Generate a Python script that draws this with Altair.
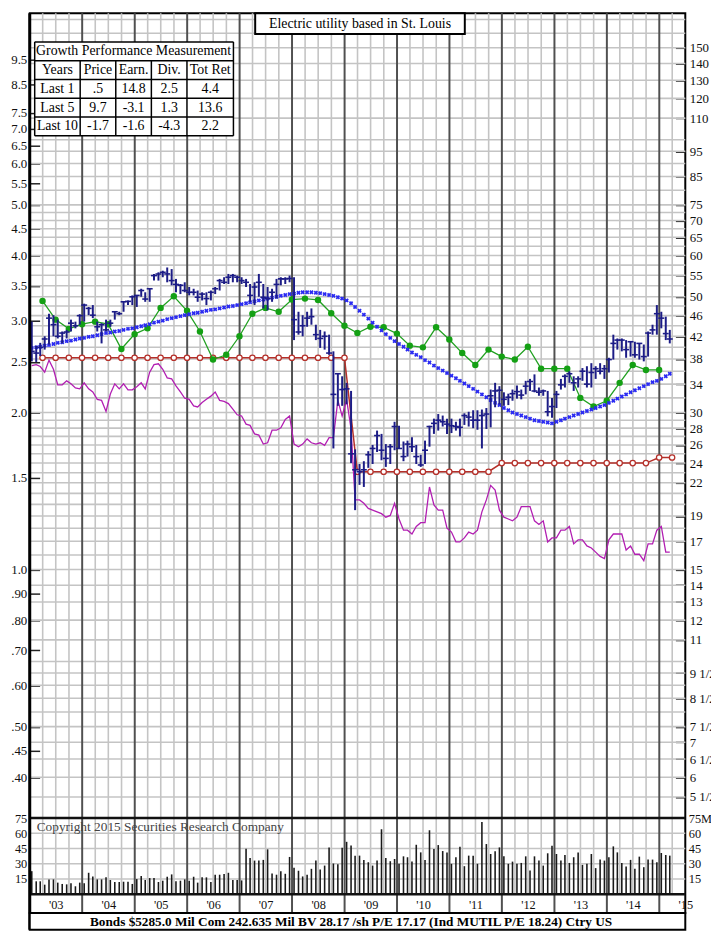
import altair as alt
import pandas as pd

SERIF = "Liberation Serif"

# ---------------- data ----------------
N_MONTHS = 147  # Jan 2003 .. Mar 2015

HIGH = [
    44.8, 40.3, 40.8, 42.0, 46.4, 46.1, 45.2, 42.9, 43.2, 45.2, 44.8, 46.3,
    48.5, 47.8, 48.2, 44.8, 44.5, 45.2, 45.2, 46.8, 46.8, 48.9, 49.2, 50.3,
    50.3, 51.8, 51.0, 51.8, 55.3, 55.7, 56.1, 56.9, 56.5, 54.1, 52.9, 53.3,
    52.2, 51.8, 51.4, 51.0, 51.0, 51.4, 52.2, 54.1, 54.5, 55.3, 55.3, 54.9,
    54.5, 54.1, 52.9, 53.3, 55.3, 52.9, 52.2, 51.8, 54.1, 54.5, 54.5, 54.9,
    54.5, 46.8, 46.1, 46.8, 47.5, 44.2, 43.2, 42.9, 42.3, 39.3, 35.7, 35.2,
    34.2, 33.0, 25.5, 23.9, 24.2, 25.3, 26.0, 27.7, 27.3, 26.1, 26.1, 28.8,
    28.3, 26.4, 26.5, 26.9, 26.0, 24.9, 26.5, 28.3, 29.2, 29.8, 29.6, 29.2,
    29.2, 28.8, 29.2, 29.9, 30.1, 30.3, 30.3, 30.4, 30.6, 33.2, 34.2, 33.7,
    32.8, 32.6, 33.2, 33.8, 33.2, 34.5, 34.8, 35.5, 33.5, 33.2, 33.0, 32.0,
    33.0, 34.8, 35.5, 36.0, 35.2, 35.2, 36.5, 36.8, 37.3, 36.8, 37.3, 37.0,
    38.2, 42.3, 41.6, 41.6, 41.3, 41.0, 41.0, 40.7, 40.5, 42.9, 44.2, 48.2,
    46.8, 45.8, 43.2]

LOW = [
    37.6, 37.5, 38.5, 39.6, 40.5, 42.0, 41.6, 40.7, 41.6, 42.9, 43.5, 44.2,
    44.8, 46.1, 45.5, 42.9, 40.7, 42.9, 43.8, 45.2, 46.1, 46.8, 48.2, 48.2,
    47.8, 50.0, 48.9, 48.9, 53.7, 53.7, 54.5, 53.3, 52.6, 51.0, 50.6, 51.0,
    50.3, 50.3, 48.9, 49.2, 48.2, 49.2, 50.6, 51.4, 52.9, 52.9, 53.3, 53.3,
    52.9, 52.2, 48.9, 48.2, 50.0, 47.5, 47.1, 48.9, 49.6, 52.6, 52.9, 53.3,
    41.3, 42.3, 42.0, 43.8, 44.2, 41.3, 39.9, 39.6, 38.7, 25.6, 30.9, 30.9,
    31.1, 24.0, 19.5, 21.8, 21.6, 23.5, 23.9, 25.2, 24.3, 23.6, 23.9, 25.4,
    25.6, 24.2, 24.7, 25.2, 23.9, 23.6, 23.9, 25.8, 27.3, 27.7, 28.2, 27.3,
    27.4, 27.7, 27.0, 28.4, 28.2, 28.0, 27.8, 25.6, 27.9, 28.1, 30.7, 31.1,
    30.9, 31.0, 31.6, 31.9, 31.8, 32.5, 33.0, 32.8, 32.3, 32.3, 29.5, 29.3,
    30.6, 33.2, 33.5, 34.2, 33.0, 33.5, 34.5, 33.5, 33.5, 34.8, 35.5, 34.8,
    35.8, 37.9, 39.6, 39.3, 38.2, 38.4, 38.2, 37.9, 37.6, 38.4, 42.3, 42.3,
    43.5, 41.3, 40.7]

CLOSE = [
    39.3, 39.0, 40.0, 41.5, 45.5, 44.2, 42.0, 42.6, 42.8, 44.5, 44.0, 46.0,
    48.2, 47.5, 46.1, 43.8, 44.2, 43.2, 44.5, 46.8, 46.4, 48.9, 49.0, 50.0,
    50.3, 51.4, 49.5, 51.8, 54.9, 55.3, 55.7, 55.3, 53.7, 52.8, 52.6, 51.4,
    51.0, 51.0, 49.9, 50.6, 49.6, 51.0, 51.8, 53.7, 53.3, 54.5, 54.9, 54.5,
    53.7, 53.3, 50.3, 52.2, 53.3, 49.9, 49.6, 51.0, 52.8, 54.1, 54.1, 54.2,
    45.2, 42.8, 44.0, 45.5, 45.8, 42.3, 41.6, 42.0, 39.0, 32.5, 35.6, 33.2,
    33.3, 25.0, 23.3, 23.1, 23.3, 24.9, 25.6, 27.1, 25.4, 24.5, 25.8, 28.2,
    25.6, 24.7, 26.1, 25.8, 24.7, 23.8, 25.4, 28.2, 28.6, 29.0, 28.8, 28.5,
    28.3, 28.2, 28.1, 29.6, 29.4, 29.0, 29.0, 29.6, 29.8, 32.3, 33.0, 33.1,
    31.8, 32.1, 32.6, 32.9, 32.4, 33.7, 34.4, 33.0, 32.8, 33.0, 30.1, 30.8,
    32.5, 33.9, 35.2, 35.6, 34.2, 34.8, 36.0, 34.0, 35.8, 36.4, 36.0, 36.4,
    37.9, 40.7, 41.3, 41.3, 39.6, 41.0, 38.7, 40.7, 38.4, 42.6, 43.2, 46.4,
    45.5, 42.5, 41.5]

MOVING_AVG = [
    39.9, 40.0, 40.1, 40.3, 40.4, 40.6, 40.8, 40.9, 41.1, 41.2, 41.4, 41.6,
    41.7, 41.9, 42.0, 42.2, 42.4, 42.6, 42.7, 42.9, 43.0, 43.2, 43.4, 43.5,
    43.7, 43.9, 44.1, 44.3, 44.6, 44.8, 45.0, 45.3, 45.5, 45.7, 45.9, 46.1,
    46.3, 46.5, 46.6, 46.8, 47.0, 47.2, 47.3, 47.5, 47.7, 47.9, 48.0, 48.2,
    48.4, 48.6, 48.8, 49.0, 49.2, 49.4, 49.6, 49.8, 50.0, 50.2, 50.4, 50.6,
    50.7, 50.9, 51.0, 51.0, 51.0, 50.9, 50.8, 50.6, 50.4, 50.2, 49.9, 49.6,
    49.2, 48.6, 47.8, 47.0, 46.2, 45.4, 44.6, 43.8, 43.1, 42.4, 41.7, 41.1,
    40.6, 40.1, 39.6, 39.1, 38.7, 38.3, 37.8, 37.4, 36.9, 36.5, 36.1, 35.7,
    35.3, 34.9, 34.5, 34.1, 33.7, 33.3, 32.9, 32.5, 32.1, 31.7, 31.3, 31.0,
    30.6, 30.3, 30.0, 29.8, 29.6, 29.4, 29.2, 29.0, 28.9, 28.8, 28.7, 28.6,
    28.8, 29.0, 29.2, 29.4, 29.6, 29.8, 30.0, 30.2, 30.4, 30.6, 30.8, 31.0,
    31.3, 31.6, 31.9, 32.2, 32.5, 32.8, 33.1, 33.4, 33.7, 34.0, 34.3, 34.5,
    34.8, 35.2, 35.6]

# relative strength, read on the left-hand scale
REL_STRENGTH = [
    2.46, 2.47, 2.45, 2.39, 2.52, 2.42, 2.26, 2.26, 2.30, 2.27, 2.23, 2.22,
    2.28, 2.22, 2.19, 2.12, 2.11, 2.01, 2.17, 2.27, 2.22, 2.27, 2.21, 2.21,
    2.24, 2.28, 2.22, 2.39, 2.47, 2.48, 2.42, 2.33, 2.32, 2.25, 2.19, 2.13,
    2.12, 2.06, 2.05, 2.09, 2.12, 2.15, 2.19, 2.11, 2.10, 2.08, 2.03, 1.98,
    1.97, 1.90, 1.89, 1.82, 1.81, 1.74, 1.75, 1.85, 1.85, 1.87, 1.94, 1.97,
    1.74, 1.72, 1.74, 1.78, 1.75, 1.74, 1.75, 1.73, 1.79, 1.79, 2.11, 1.97,
    2.12, 1.86, 1.36, 1.36, 1.34, 1.31, 1.30, 1.29, 1.28, 1.26, 1.27, 1.34,
    1.25, 1.19, 1.19, 1.17, 1.21, 1.23, 1.23, 1.44, 1.33, 1.30, 1.30, 1.20,
    1.18, 1.13, 1.13, 1.15, 1.18, 1.17, 1.19, 1.29, 1.36, 1.45, 1.42, 1.30,
    1.26, 1.25, 1.24, 1.26, 1.32, 1.32, 1.32, 1.24, 1.22, 1.24, 1.13, 1.15,
    1.15, 1.19, 1.19, 1.21, 1.12, 1.14, 1.14, 1.11, 1.10, 1.08, 1.06, 1.05,
    1.14, 1.17, 1.17, 1.17, 1.09, 1.11, 1.07, 1.07, 1.04, 1.12, 1.12, 1.19,
    1.21, 1.08, 1.08]

VOLUME = [
    22.7, 12.7, 12.7, 9.4, 14.6, 14.6, 11.4, 10.1, 9.7, 10.7, 7.8, 11.4,
    10.7, 21.1, 17.5, 14.6, 14.6, 16.6, 14.0, 12.0, 12.0, 12.3, 12.3, 10.1,
    14.9, 17.9, 14.0, 15.9, 15.9, 12.0, 13.3, 17.2, 19.5, 12.7, 13.3, 14.6,
    13.3, 17.2, 11.4, 16.6, 16.6, 12.0, 19.2, 19.2, 19.8, 21.1, 14.0, 14.0,
    13.6, 44.8, 35.7, 33.1, 33.1, 33.8, 44.2, 20.5, 19.2, 22.7, 20.1, 36.7,
    26.0, 23.1, 17.5, 19.2, 25.0, 33.1, 24.4, 28.2, 46.1, 30.2, 29.5, 45.8,
    51.6, 48.0, 38.0, 38.0, 33.8, 31.5, 28.2, 33.1, 64.0, 35.7, 32.5, 34.7,
    29.9, 37.3, 36.4, 32.1, 48.7, 41.2, 33.8, 63.0, 44.5, 48.4, 42.5, 41.2,
    29.9, 36.4, 46.8, 27.6, 38.0, 38.0, 29.9, 71.1, 49.4, 39.6, 42.2, 46.1,
    37.3, 29.9, 32.1, 29.9, 30.8, 37.3, 23.4, 37.3, 33.1, 28.2, 40.3, 47.7,
    39.6, 33.1, 38.6, 30.8, 36.4, 41.2, 28.9, 29.9, 39.6, 25.7, 34.1, 33.1,
    36.4, 47.1, 41.2, 30.8, 27.3, 33.8, 25.0, 37.0, 26.6, 34.1, 34.1, 31.5,
    40.6, 38.6, 38.0]

# quarterly series (Q1 2003 ..)
EARNINGS_LINE = [
    49.1, 45.2, 43.4, 44.3, 44.8, 44.3, 39.7, 42.4, 43.5, 47.6, 50.1, 47.0,
    42.9, 37.9, 38.7, 42.0, 46.4, 47.6, 46.8, 49.4, 49.6, 49.3, 46.5, 44.0,
    42.6, 43.8, 43.7, 42.5, 40.3, 40.0, 43.7, 41.4, 39.0, 37.0, 39.6, 38.4,
    37.9, 40.1, 36.4, 36.4, 36.4, 32.0, 30.8, 31.6, 34.2, 37.0, 36.2, 36.2]
DIVIDEND_LINE = [38.2] * 24 + [23.1] * 11 + [24.0] * 12 + [24.6] * 2

LEFT_TICKS = [9.5, 8.5, 7.5, 7.0, 6.5, 6.0, 5.5, 5.0, 4.5, 4.0, 3.5, 3.0, 2.5,
              2.0, 1.5, 1.0, 0.90, 0.80, 0.70, 0.60, 0.50, 0.45, 0.40]
RIGHT_TICKS = [150, 140, 130, 120, 110, 95, 85, 75, 70, 65, 60, 55, 50, 46, 42,
               38, 34, 30, 28, 26, 24, 22, 19, 17, 15, 14, 13, 12, 11, 9.5, 8.5,
               7.5, 7, 6.5, 6, 5.5]
GRID_PRICES = [5.5, 6, 6.5, 7, 7.5, 8, 8.5, 9, 9.5, 10, 11, 12, 13, 14, 15, 16,
               17, 18, 19, 20, 21, 22, 23, 24, 25, 26, 27, 28, 29, 30, 32, 34,
               36, 38, 40, 42, 44, 46, 48, 50, 52.5, 55, 57.5, 60, 62.5, 65,
               67.5, 70, 72.5, 75, 80, 85, 90, 95, 100, 110, 120, 130, 140,
               150, 160, 170]
VOL_TICKS = [75, 60, 45, 30, 15]
YEARS = list(range(2003, 2016))

TITLE = "Electric utility based in St. Louis"
COPYRIGHT = "Copyright 2015 Securities Research Company"
FOOTER = "Bonds  $5285.0 Mil Com 242.635 Mil BV 28.17 /sh  P/E 17.17 (Ind MUTIL P/E 18.24) Ctry US"

TABLE_HEADER = "Growth Performance Measurement"
TABLE_COLS = ["Years", "Price", "Earn.", "Div.", "Tot Ret"]
TABLE_YEARS = ["Last 1", "Last 5", "Last 10"]
TABLE_PRICE = [".5", "9.7", "-1.7"]
TABLE_EARN = ["14.8", "-3.1", "-1.6"]
TABLE_DIV = ["2.5", "1.3", "-4.3"]
TABLE_TOTRET = ["4.4", "13.6", "2.2"]

# ---------------- tables for the library ----------------
dates = [f"{2003 + m // 12}-{m % 12 + 1:02d}-15" for m in range(N_MONTHS)]
monthly = pd.DataFrame({"date": dates, "high": HIGH, "low": LOW, "close": CLOSE,
                        "ma": MOVING_AVG, "rs": REL_STRENGTH, "vol": VOLUME})
q_ends = [f"{y}-{md}" for y in YEARS for md in ["03-31", "06-30", "09-30", "12-31"]]
earn_df = pd.DataFrame({"date": q_ends[:len(EARNINGS_LINE)], "v": EARNINGS_LINE})
div_df = pd.DataFrame({"date": q_ends[:len(DIVIDEND_LINE)], "v": DIVIDEND_LINE})
quarter_lines = pd.DataFrame({"qd": [f"{y}-{m:02d}-01" for y in YEARS for m in (4, 7, 10)
                                     if (y, m) <= (2015, 4)]})
year_lines = pd.DataFrame({"yd": [f"{y}-01-01" for y in YEARS[1:]]})

W, H = 663, 910
PRICE_BOTTOM, VOL_BOTTOM = 814, 891

xscale = alt.Scale(type="utc", nice=False,
                   domain=[alt.DateTime(year=2003, month=1, date=1, utc=True),
                           alt.DateTime(year=2015, month=7, date=1, utc=True)])
pscale = alt.Scale(type="log", domain=[5.01, 174.75], range=[PRICE_BOTTOM, 0], nice=False)
vscale = alt.Scale(domain=[0, 75], range=[VOL_BOTTOM, PRICE_BOTTOM], nice=False, zero=False)


def X(field="date"):
    return alt.X(f"{field}:T", scale=xscale, axis=None)


lab = dict(labelFont=SERIF, labelColor="#111", labelOverlap=False, title=None,
           domain=False, grid=False)

left_axis = alt.Axis(orient="left", values=[v * 15 for v in LEFT_TICKS],
                     labelExpr="datum.value >= 14.9 ? format(datum.value / 15, '.1f') : "
                               "replace(format(datum.value / 15, '.2f'), '0.', '.')",
                     offset=-10, tickSize=10, tickWidth=1.5, tickColor="#222",
                     labelPadding=3, labelFontSize=13, **lab)
right_axis = alt.Axis(orient="right", values=RIGHT_TICKS,
                      labelExpr="datum.value % 1 ? floor(datum.value) + ' 1/2' : format(datum.value, 'd')",
                      offset=-10, tickSize=10, tickWidth=1.5, tickColor="#222",
                      labelPadding=4, labelFontSize=13, **lab)
vol_left_axis = alt.Axis(orient="left", values=VOL_TICKS, ticks=False,
                         labelPadding=3, labelFontSize=12.5, **lab)
vol_right_axis = alt.Axis(orient="right", values=VOL_TICKS, ticks=False,
                          labelExpr="datum.value == 75 ? '75M' : format(datum.value, 'd')",
                          labelPadding=3, labelFontSize=12.5, **lab)
x_axis = alt.Axis(orient="bottom",
                  values=[alt.DateTime(year=y, month=7, date=1, utc=True) for y in YEARS],
                  labelExpr="\"'\" + utcFormat(datum.value, '%y')",
                  ticks=False, labelPadding=-9, labelBaseline="middle", labelFlush=False,
                  labelFontSize=12.5, **lab)

GRID = "#c4c4c4"
one = pd.DataFrame({"t": [""]})

layers = []
# horizontal price grid (carries left price axis)
layers.append(alt.Chart(pd.DataFrame({"p": GRID_PRICES})).mark_rule(color=GRID, strokeWidth=1.6)
              .encode(y=alt.Y("p:Q", scale=pscale, axis=left_axis),
                      x=alt.value(0), x2=alt.value(W)))
# volume grid (carries right volume axis)
layers.append(alt.Chart(pd.DataFrame({"gv": [15, 30, 45, 60]})).mark_rule(color=GRID, strokeWidth=1.6)
              .encode(y=alt.Y("gv:Q", scale=vscale, axis=vol_right_axis),
                      x=alt.value(0), x2=alt.value(W)))
# quarterly verticals
layers.append(alt.Chart(quarter_lines).mark_rule(color=GRID, strokeWidth=1.6)
              .encode(x=X("qd"), y=alt.value(0), y2=alt.value(VOL_BOTTOM)))
# year verticals (carries year labels)
layers.append(alt.Chart(year_lines).mark_rule(color="#505050", strokeWidth=2)
              .encode(x=alt.X("yd:T", scale=xscale, axis=x_axis), y=alt.value(0), y2=alt.value(H)))
# volume bars
layers.append(alt.Chart(monthly).mark_rule(color="#1a1a1a", strokeWidth=1.6)
              .encode(x=X(), y=alt.Y("vol:Q", scale=vscale, axis=vol_left_axis), y2=alt.datum(0)))
# relative strength
layers.append(alt.Chart(monthly).transform_calculate(rs15="datum.rs * 15")
              .mark_line(color="#b21eb2", strokeWidth=1.3)
              .encode(x=X(), y=alt.Y("rs15:Q", scale=pscale, axis=None)))
# dividend line
layers.append(alt.Chart(div_df).mark_line(color="#b5302a", strokeWidth=1.5)
              .encode(x=X(), y=alt.Y("v:Q", scale=pscale, axis=None)))
layers.append(alt.Chart(div_df).mark_point(shape="circle", fill="white", stroke="#b5302a",
                                           strokeWidth=1.3, size=30, opacity=1, fillOpacity=1)
              .encode(x=X(), y=alt.Y("v:Q", scale=pscale, axis=None)))
# earnings line
layers.append(alt.Chart(earn_df).mark_line(color="#22a022", strokeWidth=1.3)
              .encode(x=X(), y=alt.Y("v:Q", scale=pscale, axis=None)))
layers.append(alt.Chart(earn_df).mark_circle(color="#14a014", size=42, opacity=1)
              .encode(x=X(), y=alt.Y("v:Q", scale=pscale, axis=None)))
# moving average
layers.append(alt.Chart(monthly).mark_point(shape="cross", angle=45, filled=True,
                                            color="#2a2af2", size=20, opacity=1)
              .encode(x=X(), y=alt.Y("ma:Q", scale=pscale, axis=None)))
# price bars (carries right price axis)
layers.append(alt.Chart(monthly).mark_rule(color="#1c1c86", strokeWidth=2)
              .encode(x=X(), y=alt.Y("low:Q", scale=pscale, axis=right_axis), y2="high:Q"))
layers.append(alt.Chart(monthly).mark_tick(orient="horizontal", color="#1c1c86", size=6,
                                           thickness=1.6, opacity=1)
              .encode(x=X(), y=alt.Y("close:Q", scale=pscale, axis=None)))
# panel separators
layers.append(alt.Chart(pd.DataFrame({"sv": [75, 0]})).mark_rule(color="#111", strokeWidth=2.5)
              .encode(y=alt.Y("sv:Q", scale=vscale, axis=None), x=alt.value(0), x2=alt.value(W)))
# left thick border
layers.append(alt.Chart(one).mark_rule(color="black", strokeWidth=3)
              .encode(x=alt.value(0), y=alt.value(0), y2=alt.value(927)))
# title box
title_df = pd.DataFrame({"t": [TITLE]})
layers.append(alt.Chart(title_df).mark_rect(fill="white", stroke="black", strokeWidth=2)
              .encode(x=alt.value(228), x2=alt.value(440), y=alt.value(0), y2=alt.value(21)))
layers.append(alt.Chart(title_df).mark_text(font=SERIF, fontSize=14, color="black")
              .encode(x=alt.value(334), y=alt.value(11), text="t:N"))
# copyright
layers.append(alt.Chart(pd.DataFrame({"t": [COPYRIGHT]}))
              .mark_text(font=SERIF, fontSize=13.5, color="#444", align="left")
              .encode(x=alt.value(7), y=alt.value(823), text="t:N"))
# footer box
foot_df = pd.DataFrame({"t": [FOOTER]})
layers.append(alt.Chart(foot_df).mark_rect(fill="white", stroke="black", strokeWidth=2)
              .encode(x=alt.value(0), x2=alt.value(W), y=alt.value(H), y2=alt.value(927)))
layers.append(alt.Chart(foot_df).mark_text(font=SERIF, fontSize=13.4, fontWeight="bold", color="black")
              .encode(x=alt.value(325), y=alt.value(919), text="t:N"))

# growth table
tx = alt.Scale(domain=[0, 1, 2, 3, 4, 5], range=[5, 51, 87, 123, 159, 206], nice=False, zero=False)
ty = alt.Scale(domain=[0, 5], range=[29, 124], nice=False, zero=False)
cells = [{"c": 2.5, "r": 0.5, "t": TABLE_HEADER}]
cells += [{"c": i + 0.5, "r": 1.5, "t": s} for i, s in enumerate(TABLE_COLS)]
for k in range(3):
    row = [TABLE_YEARS[k], TABLE_PRICE[k], TABLE_EARN[k], TABLE_DIV[k], TABLE_TOTRET[k]]
    cells += [{"c": i + 0.5, "r": k + 2.5, "t": s} for i, s in enumerate(row)]
cells_df = pd.DataFrame(cells)
segs = [{"c0": 0, "c1": 5, "r0": r, "r1": r} for r in range(6)]
segs += [{"c0": c, "c1": c, "r0": 0 if c in (0, 5) else 1, "r1": 5} for c in range(6)]
segs_df = pd.DataFrame(segs)
layers.append(alt.Chart(pd.DataFrame({"c0": [0], "c1": [5], "r0": [0], "r1": [5]}))
              .mark_rect(fill="white")
              .encode(x=alt.X("c0:Q", scale=tx, axis=None), x2="c1:Q",
                      y=alt.Y("r0:Q", scale=ty, axis=None), y2="r1:Q"))
layers.append(alt.Chart(segs_df).mark_rule(color="black", strokeWidth=1.5)
              .encode(x=alt.X("c0:Q", scale=tx, axis=None), x2="c1:Q",
                      y=alt.Y("r0:Q", scale=ty, axis=None), y2="r1:Q"))
layers.append(alt.Chart(cells_df).mark_text(font=SERIF, fontSize=14, color="black")
              .encode(x=alt.X("c:Q", scale=tx, axis=None), y=alt.Y("r:Q", scale=ty, axis=None),
                      text="t:N"))

chart = (alt.layer(*layers)
         .resolve_scale(x="independent", y="independent")
         .resolve_axis(x="independent", y="independent")
         .properties(width=W, height=H,
                     autosize=alt.AutoSizeParams(type="none"),
                     padding={"left": 22, "top": 0, "right": 26, "bottom": 19})
         .configure(background="white")
         .configure_view(stroke="black", strokeWidth=2))

chart.save("out.html", embed_options={"renderer": "svg", "actions": False})
